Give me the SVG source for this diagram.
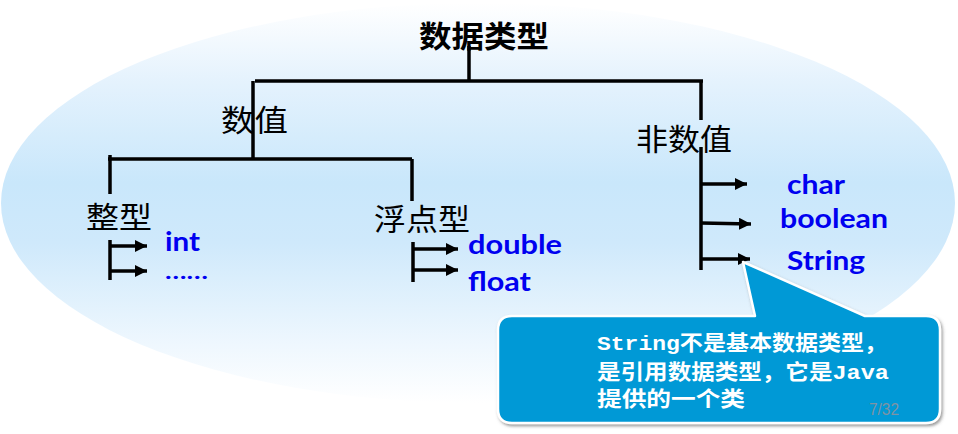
<svg xmlns="http://www.w3.org/2000/svg" width="958" height="434" viewBox="0 0 958 434">
  <defs>
    <linearGradient id="bg" gradientUnits="userSpaceOnUse" x1="0" y1="3" x2="0" y2="403">
      <stop offset="0" stop-color="#ffffff"/>
      <stop offset="0.2" stop-color="#e4f2fd"/>
      <stop offset="0.45" stop-color="#c9e7fb"/>
      <stop offset="0.6" stop-color="#cfe9fb"/>
      <stop offset="0.85" stop-color="#eef7fe"/>
      <stop offset="1" stop-color="#ffffff"/>
    </linearGradient>
    <marker id="arr" viewBox="0 0 12 12" refX="12" refY="6" markerWidth="12" markerHeight="12" markerUnits="userSpaceOnUse" orient="auto">
      <path d="M0,0 L12,6 L0,12 Z" fill="#000"/>
    </marker>
    <filter id="shadow" x="-10%" y="-10%" width="120%" height="130%">
      <feDropShadow dx="1.5" dy="2" stdDeviation="1.8" flood-color="#555" flood-opacity="0.6"/>
    </filter>
    <style>
      .cjk { font-family: "Noto Sans CJK SC", sans-serif; font-size: 30px; fill: #000; }
      .root { font-weight: 700; }
      .leaf { font-family: Lato, "Liberation Sans", sans-serif; font-size: 27px; font-weight: 700; fill: #0000f0; }
      .ln { stroke: #000; stroke-width: 3.5; fill: none; }
      .ar { stroke: #000; stroke-width: 3.5; fill: none; marker-end: url(#arr); }
      .note { font-family: "Liberation Mono", "Noto Sans CJK SC", monospace; font-size: 21px; font-weight: 700; fill: #fff; }
    </style>
  </defs>

  <ellipse cx="478" cy="203" rx="477" ry="200" fill="url(#bg)"/>

  <g id="connectors">
    <line class="ln" x1="469" y1="46" x2="469" y2="81"/>
    <line class="ln" x1="255" y1="81" x2="703" y2="81"/>
    <line class="ln" x1="253" y1="81" x2="253" y2="159"/>
    <line class="ln" x1="701" y1="81" x2="701" y2="120"/>
    <line class="ln" x1="108" y1="159" x2="412" y2="159"/>
    <line class="ln" x1="110" y1="155" x2="110" y2="194"/>
    <line class="ln" x1="412" y1="159" x2="412" y2="201"/>
    <line class="ln" x1="110" y1="240" x2="110" y2="280"/>
    <line class="ar" x1="110" y1="246" x2="147" y2="246"/>
    <line class="ar" x1="110" y1="271" x2="147" y2="271"/>
    <line class="ln" x1="413" y1="242" x2="413" y2="282"/>
    <line class="ar" x1="413" y1="249" x2="458" y2="249"/>
    <line class="ar" x1="413" y1="270" x2="458" y2="270"/>
    <line class="ln" x1="701" y1="147" x2="701" y2="270"/>
    <line class="ar" x1="701" y1="184" x2="747" y2="184"/>
    <line class="ar" x1="701" y1="223" x2="751" y2="224"/>
    <line class="ar" x1="701" y1="259" x2="750" y2="259"/>
  </g>

  <g id="node-root"><text class="cjk root" x="419" y="47" textLength="130" lengthAdjust="spacingAndGlyphs">数据类型</text></g>
  <g id="node-numeric"><text class="cjk" x="221" y="131" textLength="67" lengthAdjust="spacingAndGlyphs">数值</text></g>
  <g id="node-nonnumeric"><text class="cjk" x="636" y="150" textLength="96" lengthAdjust="spacingAndGlyphs">非数值</text></g>
  <g id="node-integer"><text class="cjk" x="86" y="228" textLength="66" lengthAdjust="spacingAndGlyphs">整型</text></g>
  <g id="node-floating"><text class="cjk" x="374" y="230" textLength="96" lengthAdjust="spacingAndGlyphs">浮点型</text></g>

  <g id="leaf-int"><text class="leaf" x="165" y="251" textLength="35" lengthAdjust="spacingAndGlyphs">int</text></g>
  <g id="leaf-more"><text class="leaf" x="165" y="279" font-size="20" style="font-size:20px" textLength="43" lengthAdjust="spacingAndGlyphs">……</text></g>
  <g id="leaf-double"><text class="leaf" x="468" y="254" textLength="94" lengthAdjust="spacingAndGlyphs">double</text></g>
  <g id="leaf-float"><text class="leaf" x="468" y="291" textLength="63" lengthAdjust="spacingAndGlyphs">float</text></g>
  <g id="leaf-char"><text class="leaf" x="787" y="194" textLength="58" lengthAdjust="spacingAndGlyphs">char</text></g>
  <g id="leaf-boolean"><text class="leaf" x="780" y="228" textLength="108" lengthAdjust="spacingAndGlyphs">boolean</text></g>
  <g id="leaf-string"><text class="leaf" x="787" y="270" textLength="78" lengthAdjust="spacingAndGlyphs">String</text></g>

  <g id="callout">
    <path d="M512,316 L755,316 L743,262 L865,316 L926,316 Q940,316 940,330 L940,409 Q940,423 926,423 L512,423 Q498,423 498,409 L498,330 Q498,316 512,316 Z" fill="#0099d6" stroke="#ffffff" stroke-width="2.5" stroke-linejoin="round" filter="url(#shadow)"/>
    <text class="note" x="597" y="350" textLength="290" lengthAdjust="spacingAndGlyphs">String不是基本数据类型，</text>
    <text class="note" x="597" y="379" textLength="292" lengthAdjust="spacingAndGlyphs">是引用数据类型，它是Java</text>
    <text class="note" x="597" y="406" textLength="148" lengthAdjust="spacingAndGlyphs">提供的一个类</text>
    <text x="869" y="415" font-family="Liberation Sans, sans-serif" font-size="17" fill="#7f93a3" textLength="30" lengthAdjust="spacingAndGlyphs">7/32</text>
  </g>
</svg>
